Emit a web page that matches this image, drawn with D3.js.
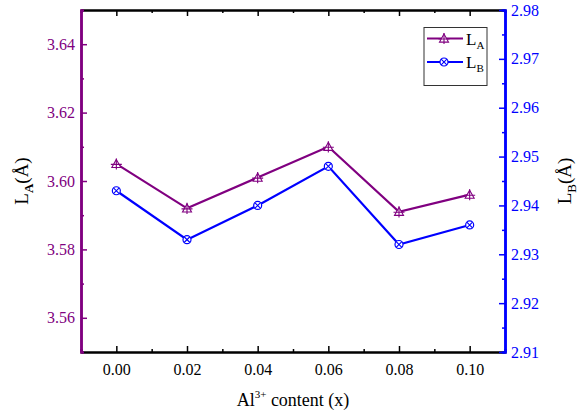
<!DOCTYPE html>
<html>
<head>
<meta charset="utf-8">
<script src="https://cdn.jsdelivr.net/npm/d3@7"></script>
<style>
  body { margin: 0; background: #fff; }
  svg { display: block; }
  text { font-family: "Liberation Serif", "Times New Roman", serif; }
</style>
</head>
<body>
<svg id="chart" width="578" height="415"></svg>
<script>
// Aluminium substitution level and the two site lengths
const content = [0.00, 0.02, 0.04, 0.06, 0.08, 0.10];
const lengthA = [3.605, 3.592, 3.601, 3.610, 3.591, 3.596];
const lengthB = [2.943, 2.933, 2.940, 2.948, 2.932, 2.936];

const xTicks = [0.00, 0.02, 0.04, 0.06, 0.08, 0.10];
const leftTicks = [3.56, 3.58, 3.60, 3.62, 3.64];
const rightTicks = [2.91, 2.92, 2.93, 2.94, 2.95, 2.96, 2.97, 2.98];

const purple = "#800080";
const blue = "#0000ff";
const serif = "'Liberation Serif', 'Times New Roman', serif";

const svg = d3.select("#chart");
const m = { left: 81, right: 505, top: 10, bottom: 352 };

const x = d3.scaleLinear().domain([-0.01, 0.11]).range([m.left, m.right]);
const yA = d3.scaleLinear().domain([3.55, 3.65]).range([m.bottom, m.top]);
const yB = d3.scaleLinear().domain([2.91, 2.98]).range([m.bottom, m.top]);

const fmt2 = d3.format(".2f");

// Bottom axis with inward ticks
const xMinor = d3.range(-0.01, 0.1101, 0.01).filter(v => Math.round(v * 100) % 2 !== 0);
const gx = svg.append("g").attr("transform", `translate(0,${m.bottom})`);
gx.call(d3.axisBottom(x).tickValues(xTicks).tickSizeInner(-6).tickSizeOuter(0).tickPadding(12).tickFormat(fmt2));
gx.append("g").call(d3.axisBottom(x).tickValues(xMinor).tickSize(-3).tickFormat(""));

// Top axis mirrors the bottom ticks
const gt = svg.append("g").attr("transform", `translate(0,${m.top})`);
gt.call(d3.axisTop(x).tickValues(xTicks).tickSizeInner(-6).tickSizeOuter(0).tickFormat(""));
gt.append("g").call(d3.axisTop(x).tickValues(xMinor).tickSize(-3).tickFormat(""));

[gx, gt].forEach(g => {
  g.selectAll("path.domain").attr("stroke", "#000").attr("stroke-width", 2);
  g.selectAll("line").attr("stroke", "#000").attr("stroke-width", 1.5);
  g.selectAll("text").attr("font-size", 16).attr("font-family", serif).attr("fill", "#000");
});

// Left axis (L_A)
const leftMinor = [3.57, 3.59, 3.61, 3.63];
const gl = svg.append("g").attr("transform", `translate(${m.left},0)`);
gl.call(d3.axisLeft(yA).tickValues(leftTicks).tickSizeInner(-6).tickSizeOuter(0).tickPadding(6).tickFormat(fmt2));
gl.append("g").call(d3.axisLeft(yA).tickValues(leftMinor).tickSize(-3).tickFormat(""));
gl.selectAll("path.domain").attr("stroke", purple).attr("stroke-width", 2.5);
gl.selectAll("line").attr("stroke", purple).attr("stroke-width", 1.5);
gl.selectAll("text").attr("font-size", 16).attr("font-family", serif).attr("fill", purple);

// Right axis (L_B)
const rightMinor = d3.range(2.915, 2.98, 0.01);
const gr = svg.append("g").attr("transform", `translate(${m.right},0)`);
gr.call(d3.axisRight(yB).tickValues(rightTicks).tickSizeInner(-6).tickSizeOuter(0).tickPadding(6).tickFormat(fmt2));
gr.append("g").call(d3.axisRight(yB).tickValues(rightMinor).tickSize(-3).tickFormat(""));
gr.selectAll("path.domain").attr("stroke", blue).attr("stroke-width", 2.5);
gr.selectAll("line").attr("stroke", blue).attr("stroke-width", 1.5);
gr.selectAll("text").attr("font-size", 16).attr("font-family", serif).attr("fill", blue);

// Series lines
const lineA = d3.line().x((d, i) => x(content[i])).y(d => yA(d));
const lineB = d3.line().x((d, i) => x(content[i])).y(d => yB(d));

svg.append("path").datum(lengthA).attr("d", lineA)
  .attr("fill", "none").attr("stroke", purple).attr("stroke-width", 2.2);
svg.append("path").datum(lengthB).attr("d", lineB)
  .attr("fill", "none").attr("stroke", blue).attr("stroke-width", 2.2);

// Marker glyphs: triangle with a cross, circle with an X
function triMarker(g, cx, cy) {
  const s = 4.5;
  g.append("path")
    .attr("d", `M${cx},${cy - s} L${cx + s},${cy + s * 0.8} L${cx - s},${cy + s * 0.8} Z`)
    .attr("fill", "#fff").attr("stroke", purple).attr("stroke-width", 1.1);
  g.append("path")
    .attr("d", `M${cx},${cy - s - 1} V${cy + s * 0.8 + 2} M${cx - s - 1},${cy + 0.5} H${cx + s + 1}`)
    .attr("stroke", purple).attr("stroke-width", 1.1);
}
function circMarker(g, cx, cy) {
  const r = 4;
  g.append("circle").attr("cx", cx).attr("cy", cy).attr("r", r)
    .attr("fill", "#fff").attr("stroke", blue).attr("stroke-width", 1.2);
  const d = r * 0.72;
  g.append("path")
    .attr("d", `M${cx - d},${cy - d} L${cx + d},${cy + d} M${cx - d},${cy + d} L${cx + d},${cy - d}`)
    .attr("stroke", blue).attr("stroke-width", 1.1);
}

const mk = svg.append("g");
lengthA.forEach((v, i) => triMarker(mk, x(content[i]), yA(v)));
lengthB.forEach((v, i) => circMarker(mk, x(content[i]), yB(v)));

// Legend
const lg = svg.append("g");
lg.append("rect").attr("x", 424).attr("y", 27.5).attr("width", 63).attr("height", 58)
  .attr("fill", "#fff").attr("stroke", "#333").attr("stroke-width", 1);
[[purple, 38.5, "A", triMarker], [blue, 62, "B", circMarker]].forEach(([c, yy, sub, fn]) => {
  lg.append("line").attr("x1", 427).attr("x2", 463).attr("y1", yy).attr("y2", yy)
    .attr("stroke", c).attr("stroke-width", 2.2);
  fn(lg, 444, yy);
  const t = lg.append("text").attr("x", 466).attr("y", yy + 6).attr("font-size", 17).attr("fill", "#000");
  t.append("tspan").text("L");
  t.append("tspan").attr("font-size", 11).attr("dy", 4).text(sub);
});

// Axis titles
const tl = svg.append("text").attr("transform", `translate(28,${(m.top + m.bottom) / 2}) rotate(-90)`)
  .attr("text-anchor", "middle").attr("font-size", 19).attr("fill", "#000");
tl.append("tspan").text("L");
tl.append("tspan").attr("font-size", 13).attr("font-weight", "bold").attr("dy", 5).text("A");
tl.append("tspan").attr("dy", -5).text("(Å)");

const tr = svg.append("text").attr("transform", `translate(571,${(m.top + m.bottom) / 2}) rotate(-90)`)
  .attr("text-anchor", "middle").attr("font-size", 19).attr("fill", "#000");
tr.append("tspan").text("L");
tr.append("tspan").attr("font-size", 13).attr("dy", 5).text("B");
tr.append("tspan").attr("dy", -5).text("(Å)");

const tx = svg.append("text").attr("x", (m.left + m.right) / 2).attr("y", 406)
  .attr("text-anchor", "middle").attr("font-size", 18).attr("fill", "#000");
tx.append("tspan").text("Al");
tx.append("tspan").attr("font-size", 11).attr("dy", -8).text("3+");
tx.append("tspan").attr("dy", 8).text(" content (x)");
</script>
</body>
</html>
